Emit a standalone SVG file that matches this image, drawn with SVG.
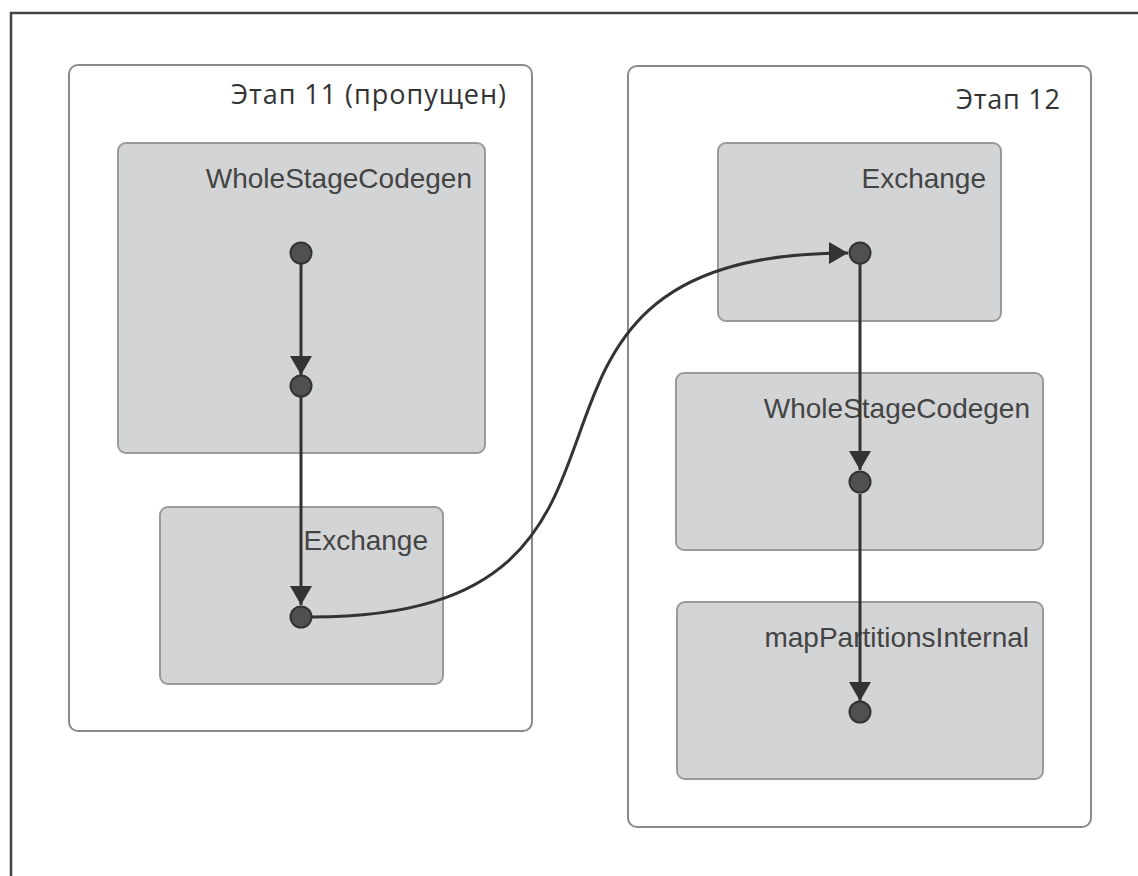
<svg xmlns="http://www.w3.org/2000/svg" width="1138" height="876" viewBox="0 0 1138 876">
  <style>
    .stage { fill: #ffffff; stroke: #8a8a8a; stroke-width: 2; }
    .op { fill: #d3d4d6; stroke: #9a9a9a; stroke-width: 2; }
    .stage-label { font-family: "Open Sans", "Noto Sans", "DejaVu Sans", sans-serif; font-size: 27px; fill: #333333; text-anchor: end; }
    .op-label { font-family: "Liberation Sans", Arial, sans-serif; font-size: 28px; fill: #444444; text-anchor: end; }
    .dot { fill: #505050; stroke: #333333; stroke-width: 2; }
    .edge { fill: none; stroke: #333333; stroke-width: 3; marker-end: url(#arrow); }
  </style>
  <defs>
    <marker id="arrow" markerUnits="userSpaceOnUse" markerWidth="20" markerHeight="22" refX="19" refY="11" orient="auto">
      <path d="M0,0 L19,11 L0,22 z" fill="#333333"/>
    </marker>
  </defs>

  <rect x="0" y="0" width="1138" height="876" fill="#ffffff"/>
  <path d="M11,876 V13 H1138" fill="none" stroke="#444444" stroke-width="2.5"/>

  <g id="stage11">
    <rect class="stage" x="69" y="65" width="463" height="666" rx="9"/>
    <text class="stage-label" x="506" y="104" textLength="275">Этап 11 (пропущен)</text>
  </g>
  <g id="stage12">
    <rect class="stage" x="628" y="66" width="463" height="761" rx="9"/>
    <text class="stage-label" x="1060" y="109" textLength="104">Этап 12</text>
  </g>

  <g id="s11-wholestagecodegen">
    <rect class="op" x="118" y="143" width="367" height="310" rx="8"/>
    <text class="op-label" x="472" y="188">WholeStageCodegen</text>
  </g>
  <g id="s11-exchange">
    <rect class="op" x="160" y="507" width="283" height="177" rx="8"/>
    <text class="op-label" x="428" y="550">Exchange</text>
  </g>
  <g id="s12-exchange">
    <rect class="op" x="718" y="143" width="283" height="178" rx="8"/>
    <text class="op-label" x="986" y="188">Exchange</text>
  </g>
  <g id="s12-wholestagecodegen">
    <rect class="op" x="676" y="373" width="367" height="177" rx="8"/>
    <text class="op-label" x="1030" y="418">WholeStageCodegen</text>
  </g>
  <g id="s12-mappartitions">
    <rect class="op" x="677" y="602" width="366" height="177" rx="8"/>
    <text class="op-label" x="1029" y="647">mapPartitionsInternal</text>
  </g>

  <g id="connectors">
    <path class="edge" d="M301,263 V375"/>
    <path class="edge" d="M301,397 V605"/>
    <path class="edge" d="M312,617 C717,617 440,253 848,253"/>
    <path class="edge" d="M860,264 V470"/>
    <path class="edge" d="M860,494 V701"/>
  </g>

  <g id="op-s11-wsc-1"><circle class="dot" cx="301" cy="253" r="10.5"/></g>
  <g id="op-s11-wsc-2"><circle class="dot" cx="301" cy="386" r="10.5"/></g>
  <g id="op-s11-exchange"><circle class="dot" cx="301" cy="617" r="10.5"/></g>
  <g id="op-s12-exchange"><circle class="dot" cx="860" cy="253" r="10.5"/></g>
  <g id="op-s12-wsc"><circle class="dot" cx="860" cy="482" r="10.5"/></g>
  <g id="op-s12-map"><circle class="dot" cx="860" cy="712" r="10.5"/></g>
</svg>
